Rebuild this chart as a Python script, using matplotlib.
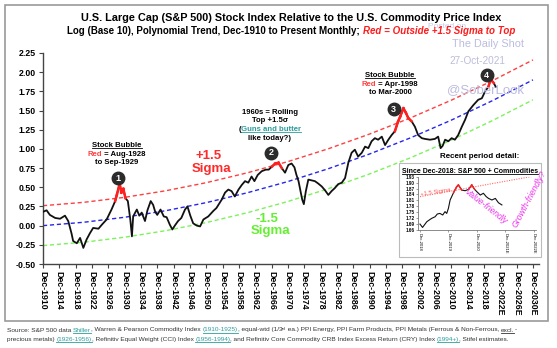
import matplotlib
matplotlib.use("Agg")
import matplotlib.pyplot as plt
import numpy as np
from matplotlib.transforms import IdentityTransform
from matplotlib.lines import Line2D
from matplotlib.patches import Rectangle

plt.rcParams['font.family'] = ['Liberation Sans', 'DejaVu Sans']

# ---- data (log10 ratio, year as decimal) ----
years = [1910.92, 1911.8, 1912.6, 1913.9, 1915.1, 1916.3, 1917.1, 1917.9, 1918.3, 1919.2,
         1920.0, 1920.8, 1921.6, 1922.4, 1923.2, 1924.5, 1925.3, 1926.5, 1927.7, 1928.6,
         1929.0, 1929.7, 1930.1, 1930.6, 1931.1, 1931.7, 1932.3, 1932.7, 1933.0, 1933.9,
         1934.5, 1935.1, 1935.9, 1936.5, 1937.3, 1937.9, 1938.4, 1938.9, 1939.7, 1940.5,
         1941.2, 1942.0, 1942.6, 1943.2, 1944.0, 1944.8, 1945.7, 1946.3, 1947.0, 1947.7,
         1948.6, 1949.4, 1950.2, 1951.4, 1952.6, 1953.4, 1954.7, 1955.5, 1956.3, 1957.1,
         1957.9, 1958.8, 1959.6, 1960.4, 1961.2, 1962.0, 1962.7, 1963.5, 1964.5, 1965.5,
         1966.2, 1967.0, 1967.8, 1968.6, 1969.4, 1970.2, 1971.0, 1971.8, 1972.5, 1973.0,
         1973.5, 1973.9, 1974.4, 1974.8, 1975.3, 1975.9, 1976.7, 1977.5, 1978.3, 1979.2,
         1980.0, 1980.8, 1981.6, 1982.4, 1983.2, 1984.1, 1984.9, 1985.7, 1986.5, 1987.3,
         1988.1, 1989.0, 1989.8, 1990.6, 1991.4, 1992.2, 1993.0, 1993.9, 1994.7, 1995.5,
         1996.3, 1997.1, 1997.9, 1998.4, 1999.2, 1999.8, 2000.4, 2001.2, 2002.0, 2002.8,
         2003.7, 2004.5, 2005.7, 2006.9, 2007.7, 2008.3, 2008.8, 2009.4, 2010.2, 2011.0,
         2011.8, 2012.6, 2013.5, 2014.3, 2015.1, 2016.3, 2017.5, 2018.4, 2019.2, 2020.0,
         2020.4, 2020.8, 2021.3, 2021.8]
ratio = [0.18, 0.20, 0.14, 0.10, 0.09, 0.13, 0.06, -0.10, -0.20, -0.23,
         -0.16, -0.29, -0.18, -0.10, -0.03, -0.04, 0.01, 0.08, 0.21, 0.32,
         0.40, 0.55, 0.43, 0.48, 0.36, 0.32, 0.08, -0.14, 0.12, 0.21,
         0.13, 0.17, 0.06, 0.20, 0.32, 0.27, 0.18, 0.14, 0.21, 0.12,
         0.11, 0.01, -0.05, 0.00, 0.06, 0.10, 0.21, 0.25, 0.13, 0.03,
         0.00, -0.01, 0.08, 0.12, 0.19, 0.23, 0.34, 0.43, 0.47, 0.45,
         0.38, 0.47, 0.53, 0.58, 0.56, 0.64, 0.58, 0.66, 0.71, 0.73,
         0.73, 0.77, 0.81, 0.82, 0.75, 0.69, 0.79, 0.81, 0.76, 0.66,
         0.58, 0.47, 0.34, 0.28, 0.45, 0.60, 0.59, 0.58, 0.55, 0.51,
         0.46, 0.40, 0.45, 0.49, 0.54, 0.56, 0.62, 0.82, 0.95, 0.99,
         0.90, 0.95, 1.03, 1.01, 1.10, 1.14, 1.12, 1.16, 1.05, 1.12,
         1.18, 1.23, 1.36, 1.42, 1.53, 1.47, 1.40, 1.36, 1.29, 1.18,
         1.14, 1.13, 1.12, 1.13, 1.16, 1.01, 1.04, 1.12, 1.10, 1.14,
         1.12, 1.18, 1.29, 1.38, 1.49, 1.57, 1.64, 1.66, 1.75, 1.81,
         1.88, 1.89, 1.86, 1.81]

# polynomial trend, read at each decade
trend_years = [1910.92, 1920.92, 1930.92, 1940.92, 1950.92, 1960.92, 1970.92,
               1980.92, 1990.92, 2000.92, 2010.92, 2020.92, 2030.92]
trend_vals = [0.0, 0.044, 0.109, 0.194, 0.300, 0.428, 0.575,
              0.744, 0.934, 1.144, 1.375, 1.627, 1.900]
sigma15 = 0.26

tick_years = [1910 + 4 * i for i in range(31)]
tick_labels = ['Dec-%d' % y if y < 2022 else 'Dec-%dE' % y for y in tick_years]

bubble_marks = [(1929.3, 0.62, '1'), (1966.8, 0.95, '2'), (1996.8, 1.52, '3'), (2019.6, 1.96, '4')]

# inset (since Dec-2018)
ins_years = [2018.92, 2019.01, 2019.16, 2019.33, 2019.45, 2019.53, 2019.62, 2019.72, 2019.80,
             2019.86, 2019.92, 2019.98, 2020.10, 2020.21, 2020.27, 2020.39, 2020.51, 2020.63,
             2020.74, 2020.84, 2020.92, 2021.04, 2021.15, 2021.25, 2021.33, 2021.45, 2021.57, 2021.68,
             2021.80]
ins_vals = [1.690, 1.673, 1.702, 1.719, 1.727, 1.741, 1.744, 1.736, 1.753,
            1.744, 1.770, 1.812, 1.849, 1.879, 1.888, 1.862, 1.859, 1.866,
            1.888, 1.866, 1.854, 1.837, 1.846, 1.829, 1.820, 1.812, 1.820, 1.798,
            1.787]
ins_sigma_x = [2018.92, 2023.0]
ins_sigma_y = [1.829, 1.935]
ins_ticks = [2018, 2019, 2020, 2021, 2022]
ins_tick_labels = ['Dec-2018', 'Dec-2019', 'Dec-2020', 'Dec-2021E', 'Dec-2022E']

W, H = 557, 348
fig = plt.figure(figsize=(W / 100, H / 100), dpi=100)
fig.patch.set_facecolor('white')
R = fig.canvas.get_renderer()


def measure(txt, **kw):
    a = fig.text(0, 0, '|' + txt + '|', transform=IdentityTransform(), **kw)
    b = fig.text(0, 0, '||', transform=IdentityTransform(), **kw)
    w = a.get_window_extent(R).width - b.get_window_extent(R).width
    a.remove()
    b.remove()
    return w


def rich(x, y, parts, size, ha='center', bold=True):
    # parts: (text, color, style, underline, dy, size)
    ws = []
    for p in parts:
        kw = dict(fontsize=p[5] if len(p) > 5 else size, fontweight='bold' if bold else 'normal',
                  fontstyle=p[2], color=p[1])
        ws.append((measure(p[0], **kw), kw))
    total = sum(w for w, _ in ws)
    cx = x - total / 2 if ha == 'center' else x
    for p, (w, kw) in zip(parts, ws):
        dy = p[4] if len(p) > 4 else 0
        fig.text(cx, H - y + dy, p[0], transform=IdentityTransform(), va='baseline', ha='left', **kw)
        if p[3]:
            fig.add_artist(Line2D([cx, cx + w], [H - y - 1.3, H - y - 1.3], lw=0.6,
                                  color=p[1], transform=IdentityTransform()))
        cx += w


# frame
fig.add_artist(Rectangle((5, H - 321), 543, 316, fill=False, edgecolor='#9a9a9a', lw=1.2,
                         transform=IdentityTransform()))

ax = fig.add_axes([43 / W, 1 - 264 / H, (538.6 - 43) / W, (264 - 53) / H])
tr = np.array(trend_vals)
ax.plot(trend_years, tr + sigma15, color='#ff4040', lw=1.0, ls=(0, (3, 2)))
ax.plot(trend_years, tr, color='#2626ee', lw=1.0, ls=(0, (3, 2)))
ax.plot(trend_years, tr - sigma15, color='#7cf25a', lw=1.0, ls=(0, (3, 2)))

yr = np.array(years)
rt = np.array(ratio)
ax.plot(yr, rt, color='#111111', lw=1.3, zorder=3)
upper = np.interp(yr, trend_years, tr) + sigma15
above = rt > upper
for i in range(len(yr) - 1):
    if above[i] or above[i + 1]:
        ax.plot(yr[i:i + 2], rt[i:i + 2], color='#ff2020', lw=1.8, zorder=4)

for bx, by, lab in bubble_marks:
    ax.plot(bx, by, 'o', ms=9, color='#2b2b2b', zorder=5)
    ax.text(bx, by, lab, color='white', fontsize=6.5, fontweight='bold', ha='center', va='center', zorder=6)

ax.set_xlim(1910.92, 2032.3)
ax.set_ylim(-0.5, 2.25)
ax.set_yticks(np.arange(-0.5, 2.26, 0.25))
ax.set_yticklabels(['%.2f' % v for v in np.arange(-0.5, 2.26, 0.25)], fontsize=6.3, fontweight='bold')
ax.set_xticks([y + 0.92 for y in tick_years])
ax.set_xticklabels(tick_labels, rotation=270, fontsize=6.3, fontweight='bold')
for s in ['top', 'right']:
    ax.spines[s].set_visible(False)
for s in ['left', 'bottom']:
    ax.spines[s].set_color('#444444')
    ax.spines[s].set_linewidth(1.0)
ax.tick_params(length=3, width=0.8, color='#444444', pad=2)
ax.patch.set_alpha(0)

# titles
fig.text(447, H - 27, 'Posted on', transform=IdentityTransform(), fontsize=6, color='#c9c9e2',
         ha='center', va='center', zorder=0)
rich(291, 21, [('U.S. Large Cap (S&P 500) Stock Index Relative to the U.S. Commodity Price Index', 'black', 'normal', False)], 7.8)
rich(291, 34.5, [('Log (Base 10), Polynomial Trend, Dec-1910 to Present Monthly; ', 'black', 'normal', False),
                 ('Red = Outside +1.5 Sigma to Top', '#ff1a1a', 'italic', False)], 7.0)
wm = '#bcbcde'
fig.text(488, H - 44, 'The Daily Shot', transform=IdentityTransform(), fontsize=7.8, color=wm, ha='center', va='center')
fig.text(477, H - 61, '27-Oct-2021', transform=IdentityTransform(), fontsize=7.2, color=wm, ha='center', va='center')
fig.text(485, H - 90, '@SoberLook', transform=IdentityTransform(), fontsize=9.5, color=wm, ha='center', va='center')

# annotations
s = 5.6
rich(117, 147, [('Stock Bubble', 'black', 'normal', True)], s)
rich(117, 155.5, [('Red', '#ff4040', 'normal', False), (' = Aug-1928', 'black', 'normal', False)], s)
rich(117, 164, [('to Sep-1929', 'black', 'normal', False)], s)
rich(270, 114, [('1960s = Rolling', 'black', 'normal', False)], s)
rich(270, 122.5, [('Top +1.5\u03c3', 'black', 'normal', False)], s)
rich(270, 131, [('(', 'black', 'normal', False), ('Guns and butter', '#2a9d9d', 'normal', True)], s)
rich(270, 139.5, [('like today?)', 'black', 'normal', False)], s)
rich(390, 77, [('Stock Bubble', 'black', 'normal', True)], s)
rich(390, 85.5, [('Red', '#ff4040', 'normal', False), (' = Apr-1998', 'black', 'normal', False)], s)
rich(390, 94, [('to Mar-2000', 'black', 'normal', False)], s)
rich(209, 159, [('+1.5', '#ff2a2a', 'normal', False)], 9.5)
rich(211, 172, [('Sigma', '#ff2a2a', 'normal', False)], 9.5)
rich(267, 222, [('-1.5', '#66ee33', 'normal', False)], 9.5)
rich(270, 234, [('Sigma', '#66ee33', 'normal', False)], 9.5)

# inset
rich(480, 158.5, [('Recent period detail:', 'black', 'normal', False)], 5.8)
fig.add_artist(Rectangle((399, H - 257), 142, 94, fill=False, edgecolor='#bbbbbb', lw=0.8,
                         transform=IdentityTransform()))
rich(470, 173, [('Since Dec-2018: S&P 500 + Commodities', 'black', 'normal', True)], 5.0)
ia = fig.add_axes([418 / W, 1 - 230 / H, 118 / W, 53.3 / H])
ia.plot(ins_sigma_x, ins_sigma_y, color='#ff6a6a', lw=0.8, ls=(0, (1, 1.2)))
ix = np.array(ins_years)
iv = np.array(ins_vals)
ia.plot(ix, iv, color='#111111', lw=0.8)
iup = np.interp(ix, ins_sigma_x, ins_sigma_y)
iab = iv > iup
for i in range(len(ix) - 1):
    if iab[i] or iab[i + 1]:
        ia.plot(ix[i:i + 2], iv[i:i + 2], color='#ff2020', lw=1.0)
ia.set_xlim(2018.85, 2023.0)
ia.set_ylim(1.66, 1.93)
ia.set_yticks(np.arange(1.66, 1.935, 0.03))
ia.set_yticklabels(['%.2f' % v for v in np.arange(1.66, 1.935, 0.03)], fontsize=3.3, fontweight='bold')
ia.set_xticks([y + 0.92 for y in ins_ticks])
ia.set_xticklabels(ins_tick_labels, rotation=270, fontsize=3.0)
for sp in ['top', 'right']:
    ia.spines[sp].set_visible(False)
for sp in ['left', 'bottom']:
    ia.spines[sp].set_color('#777777')
    ia.spines[sp].set_linewidth(0.6)
ia.tick_params(length=1.5, width=0.5, pad=1, color='#777777')
ia.patch.set_alpha(0)
fig.text(436, H - 192, '+1.5 Sigma', transform=IdentityTransform(), fontsize=4.3, color='#ff5050',
         rotation=9, ha='center', va='center')
fig.text(486, H - 206, 'Value-friendly', transform=IdentityTransform(), fontsize=6.2, color='#ee33ee',
         style='italic', rotation=-38, ha='center', va='center')
fig.text(529, H - 199, 'Growth-friendly?', transform=IdentityTransform(), fontsize=6.2, color='#ee33ee',
         style='italic', rotation=62, ha='center', va='center')

# footnote
fs = 4.65
g = '#333333'
lk = '#2a9d9d'
rich(7, 331.5, [('Source: S&P 500 data ', g, 'normal', False), ('Shiller', lk, 'normal', True),
                (', Warren & Pearson Commodity Index ', g, 'normal', False), ('(1910-1925)', lk, 'normal', True),
                (', equal-wtd (1/3', g, 'normal', False), ('rd', g, 'normal', False, 1.6, 3.2),
                (' ea.) PPI Energy, PPI Farm Products, PPI Metals (Ferrous & Non-Ferrous, ', g, 'normal', False),
                ('excl.', g, 'normal', True), ('-', g, 'normal', False)], fs, ha='left', bold=False)
rich(7, 340.5, [('precious metals) ', g, 'normal', False), ('(1926-1956)', lk, 'normal', True),
                (', Refinitiv Equal Weight (CCI) Index ', g, 'normal', False), ('(1956-1994)', lk, 'normal', True),
                (', and Refinitiv Core Commodity CRB Index Excess Return (CRY) Index ', g, 'normal', False),
                ('(1994+)', lk, 'normal', True), (', Stifel estimates.', g, 'normal', False)], fs, ha='left', bold=False)

fig.savefig('out.png', dpi=100)
